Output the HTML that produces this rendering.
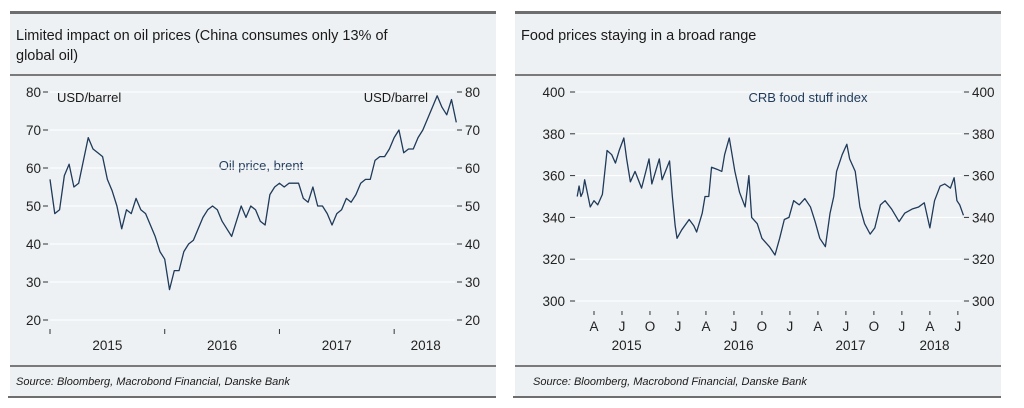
<!DOCTYPE html>
<html><head><meta charset="utf-8"><style>
body{margin:0;width:1024px;height:408px;background:#fff;overflow:hidden;font-family:"Liberation Sans",sans-serif}
svg{display:block}
text{font-family:"Liberation Sans",sans-serif}
</style></head><body>
<svg id="c" width="1024" height="408">
<rect x="10" y="12" width="486" height="386" fill="#eef1f3"/>
<rect x="515" y="12" width="486" height="386" fill="#eef1f3"/>
<rect x="10" y="11" width="486" height="3" fill="#6e6e6e"/>
<rect x="515" y="11" width="486" height="3" fill="#6e6e6e"/>
<rect x="10" y="74" width="486" height="2" fill="#7a7a7a"/>
<rect x="515" y="74" width="486" height="2" fill="#7a7a7a"/>
<rect x="10" y="365" width="486" height="2" fill="#7a7a7a"/>
<rect x="515" y="365" width="486" height="2" fill="#7a7a7a"/>
<rect x="8" y="396" width="488" height="2" fill="#6e6e6e"/>
<rect x="513" y="396" width="488" height="2" fill="#6e6e6e"/>
<text x="16" y="40" font-size="14.5" fill="#1a1a1a">Limited impact on oil prices (China consumes only 13% of</text>
<text x="16" y="60" font-size="14.5" fill="#1a1a1a">global oil)</text>
<text x="21" y="40" font-size="14.5" fill="#1a1a1a" transform="translate(500,0)">Food prices staying in a broad range</text>
<text x="16" y="385" font-size="11" font-style="italic" fill="#1a1a1a">Source: Bloomberg, Macrobond Financial, Danske Bank</text>
<text x="533" y="385" font-size="11" font-style="italic" fill="#1a1a1a">Source: Bloomberg, Macrobond Financial, Danske Bank</text>
<text x="57" y="102" font-size="13" fill="#1a1a1a">USD/barrel</text>
<text x="428" y="102" font-size="13" fill="#1a1a1a" text-anchor="end">USD/barrel</text>
<text x="261" y="170" font-size="13" fill="#1f3a5a" text-anchor="middle">Oil price, brent</text>
<text x="808" y="102" font-size="13" fill="#1f3a5a" text-anchor="middle">CRB food stuff index</text>
<g id="oilg"></g><g id="foodg"></g>
</svg>
<script>
// ---- Oil data: half-month steps starting Jan 2015 ----
const oilStartMonth = 0;
const oilValues = [57,48,49,58,61,55,56,62,68,65,64,63,57,54,50,44,49,48,52,49,48,45,42,38,36,28,33,33,38,40,41,44,47,49,50,49,46,44,42,46,50,47,50,49,46,45,53,55,56,55,56,56,56,52,51,55,50,50,48,45,48,49,52,51,53,56,57,57,62,63,63,65,68,70,64,65,65,68,70,73,76,79,76,74,78,72];
const oilTicks = [20,30,40,50,60,70,80];
const oilYears = ["2015","2016","2017","2018"];
// ---- Food data: months since Jan 2015, values ----
const foodMonths = [1.2,1.4,1.6,1.8,2.0,2.6,3.0,3.4,3.9,4.4,4.9,5.3,5.7,6.2,6.5,6.9,7.4,8.1,8.9,9.2,10.0,10.3,11.1,11.4,11.7,11.9,12.4,13.2,13.7,14.0,14.6,14.9,15.3,15.6,16.2,16.7,17.0,17.5,17.8,18.1,18.6,19.2,19.6,19.9,20.5,21.0,21.8,22.4,22.9,23.4,23.9,24.4,25.0,25.6,26.2,26.7,27.2,27.8,28.3,28.7,29.0,29.6,30.1,30.4,31.0,31.5,32.0,32.6,33.1,33.7,34.2,34.9,35.7,36.3,37.1,37.8,38.4,39.0,39.5,40.1,40.6,41.2,41.6,41.9,42.2,42.6];
const foodValues = [350,355,350,352,358,345,348,346,351,372,370,366,372,378,368,357,362,354,368,356,368,358,367,350,336,330,334,339,336,333,342,350,350,364,363,362,370,378,370,362,352,345,360,340,337,330,326,322,330,339,340,348,346,349,345,338,330,326,342,350,362,370,375,368,362,345,337,332,335,346,348,344,338,342,344,345,347,335,348,355,356,354,359,348,346,341];
const foodTicks = [300,320,340,360,380,400];
const foodMonthLabels = ["A","J","O","J","A","J","O","J","A","J","O","J","A","J"];
const foodYears = ["2015","2016","2017","2018"];

const NS="http://www.w3.org/2000/svg";
function mk(p,tag,at){const e=document.createElementNS(NS,tag);for(const k in at)e.setAttribute(k,at[k]);p.appendChild(e);return e;}
// Oil axes
const ox=m=>50+m*9.56, oy=v=>92+(80-v)*3.8;
const og=document.getElementById('oilg');
oilTicks.forEach(t=>{
  const l=mk(og,'line',{x1:50,x2:455,y1:oy(t),y2:oy(t),stroke:'#fff','stroke-width':1});
  
  
  mk(og,'line',{x1:43,x2:48,y1:oy(t),y2:oy(t),stroke:'#333'});
  mk(og,'line',{x1:457,x2:462,y1:oy(t),y2:oy(t),stroke:'#333'});
  const a=mk(og,'text',{x:41,y:oy(t)+5,'font-size':13.5,'text-anchor':'end',fill:'#222'});a.textContent=t;
  
  
  const b=mk(og,'text',{x:465,y:oy(t)+5,'font-size':13.5,fill:'#222'});b.textContent=t;
  
  
});
oilYears.forEach((y,i)=>{
  mk(og,'line',{x1:ox(i*12),x2:ox(i*12),y1:329,y2:334,stroke:'#333'});
  const mid=i<3?ox(i*12+6):ox(36+3.3);
  const t=mk(og,'text',{x:mid,y:350,'font-size':13.5,'text-anchor':'middle',fill:'#222'});t.textContent=y;
  
  
});
const op=mk(og,'polyline',{points:oilValues.map((v,i)=>ox(oilStartMonth+i/2)+','+oy(v)).join(' '),fill:'none',stroke:'#1f3a5a','stroke-width':1.3,'stroke-linejoin':'round'});


// Food axes
const fx=m=>566+m*9.33, fy=v=>92+(400-v)*2.09;
const fg=document.getElementById('foodg');
foodTicks.forEach(t=>{
  const l=mk(fg,'line',{x1:576,x2:962,y1:fy(t),y2:fy(t),stroke:'#fff','stroke-width':1});
  
  
  mk(fg,'line',{x1:570,x2:575,y1:fy(t),y2:fy(t),stroke:'#333'});
  mk(fg,'line',{x1:964,x2:969,y1:fy(t),y2:fy(t),stroke:'#333'});
  const a=mk(fg,'text',{x:565,y:fy(t)+5,'font-size':13.5,'text-anchor':'end',fill:'#222'});a.textContent=t;
  
  
  const b=mk(fg,'text',{x:972,y:fy(t)+5,'font-size':13.5,fill:'#222'});b.textContent=t;
  
  
});
foodMonthLabels.forEach((s,i)=>{
  const m=3+i*3;
  mk(fg,'line',{x1:fx(m),x2:fx(m),y1:311,y2:315,stroke:'#333'});
  const t=mk(fg,'text',{x:fx(m),y:331,'font-size':13.5,'text-anchor':'middle',fill:'#222'});t.textContent=s;
  
  
});
foodYears.forEach((y,i)=>{
  const mid=i<3?fx(i*12+6.5):fx(36+3.5);
  const t=mk(fg,'text',{x:mid,y:350,'font-size':13.5,'text-anchor':'middle',fill:'#222'});t.textContent=y;
  
  
});
const fp=mk(fg,'polyline',{points:foodValues.map((v,i)=>fx(foodMonths[i])+','+fy(v)).join(' '),fill:'none',stroke:'#1f3a5a','stroke-width':1.3,'stroke-linejoin':'round'});


</script>
</body></html>
